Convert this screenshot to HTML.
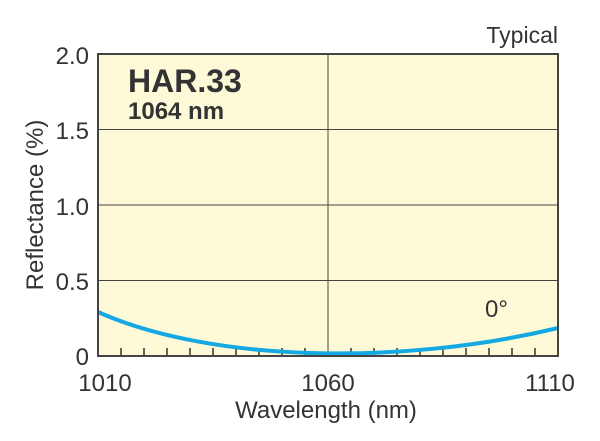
<!DOCTYPE html>
<html><head><style>
body{margin:0;background:#fff;}
svg text{font-family:"Liberation Sans",Arial,sans-serif;fill:#333;}
</style></head><body>
<svg width="600" height="436" xmlns="http://www.w3.org/2000/svg">
<rect x="98" y="54" width="460" height="302" fill="#fef9d7"/>
<g stroke="#444" stroke-width="1">
<line x1="98" y1="129.5" x2="558" y2="129.5"/>
<line x1="98" y1="205" x2="558" y2="205"/>
<line x1="98" y1="280.5" x2="558" y2="280.5"/>
<line x1="328" y1="54" x2="328" y2="356"/>
</g>
<g stroke="#333" stroke-width="1.5">
<line x1="121" y1="348" x2="121" y2="356"/><line x1="144" y1="348" x2="144" y2="356"/><line x1="167" y1="348" x2="167" y2="356"/><line x1="190" y1="348" x2="190" y2="356"/><line x1="213" y1="348" x2="213" y2="356"/><line x1="236" y1="348" x2="236" y2="356"/><line x1="259" y1="348" x2="259" y2="356"/><line x1="282" y1="348" x2="282" y2="356"/><line x1="305" y1="348" x2="305" y2="356"/>
<line x1="351" y1="348" x2="351" y2="356"/><line x1="374" y1="348" x2="374" y2="356"/><line x1="397" y1="348" x2="397" y2="356"/><line x1="420" y1="348" x2="420" y2="356"/><line x1="443" y1="348" x2="443" y2="356"/><line x1="466" y1="348" x2="466" y2="356"/><line x1="489" y1="348" x2="489" y2="356"/><line x1="512" y1="348" x2="512" y2="356"/><line x1="535" y1="348" x2="535" y2="356"/>
</g>
<path d="M98,312 C210,362 400,366 558,328" fill="none" stroke="#14a9e3" stroke-width="4"/>
<rect x="98" y="54" width="460" height="302" fill="none" stroke="#444" stroke-width="2"/>
<g font-size="24" text-anchor="end">
<text x="89" y="64">2.0</text><text x="89" y="139">1.5</text><text x="89" y="215">1.0</text><text x="89" y="290">0.5</text><text x="89" y="365">0</text>
</g>
<g font-size="24" text-anchor="middle">
<text x="105" y="391">1010</text><text x="328" y="391">1060</text><text x="550" y="391">1110</text>
<text x="326" y="418">Wavelength (nm)</text>
</g>
<text transform="translate(43,205) rotate(-90)" font-size="24" text-anchor="middle">Reflectance (%)</text>
<text x="558" y="43" font-size="23" text-anchor="end">Typical</text>
<text x="128" y="92" font-size="32" font-weight="bold">HAR.33</text>
<text x="128" y="119" font-size="24" font-weight="bold">1064 nm</text>
<text x="485" y="317" font-size="24">0°</text>
</svg>
</body></html>
